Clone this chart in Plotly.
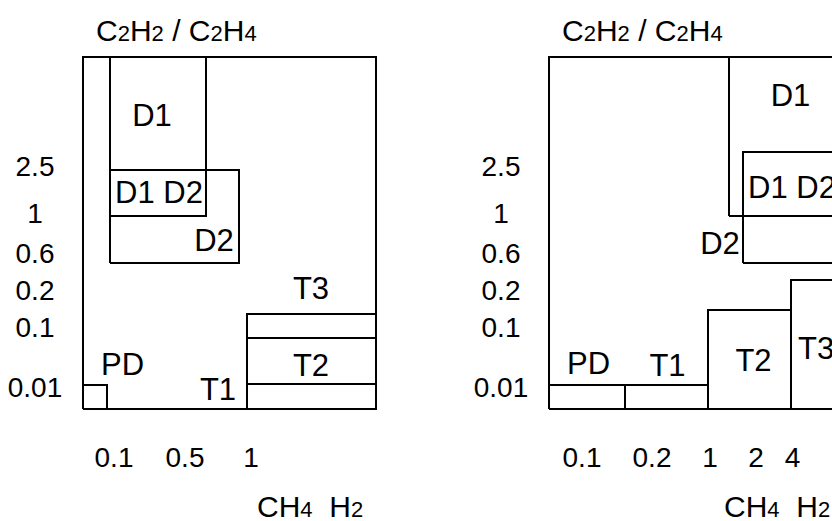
import plotly.graph_objects as go

# ---------------- data (diagram units: box-relative, x right / y up) ----------------
FONT = "Arial, Liberation Sans, sans-serif"

# y-axis ratio labels (C2H2/C2H4) and their positions on the diagram scale
y_tick_labels = ["2.5", "1", "0.6", "0.2", "0.1", "0.01"]
y_tick_pos = [240, 193, 153, 116.5, 79.5, 19.5]

# left panel x-axis labels (CH4/H2)
left_x_labels = ["0.1", "0.5", "1"]
left_x_pos = [31, 102, 168]

# right panel x-axis labels (CH4/H2)
right_x_labels = ["0.1", "0.2", "1", "2", "4"]
right_x_pos = [33, 103, 161, 207, 243.5]

# left panel zone rectangles: [x0, x1, y0, y1]
left_outer = [0, 293, 0, 352]
left_zones = {
    "D1": [27, 123, 193, 352],
    "D2": [27, 156, 146, 239],
    "PD": [0, 24, 0, 24],
    "T": [164, 293, 0, 95],
}
left_T_splits = [71, 25]  # horizontal dividers inside the thermal zone

# left panel zone labels
left_label_text = ["D1", "D1 D2", "D2", "T3", "T2", "T1", "PD"]
left_label_x = [69, 76, 131, 228, 228, 135, 39.5]
left_label_y = [290.5, 214, 165.5, 117.5, 41, 16.5, 41.5]

# right panel zone rectangles (right side runs past the picture edge)
right_outer = [0, 330, 0, 352]
right_zones = {
    "D1": [180, 330, 193, 352],
    "D2": [194, 330, 146, 257],
    "PD": [0, 76, 0, 24],
    "T1": [76, 159, 0, 24],
    "T2": [159, 242, 0, 99],
    "T3": [242, 330, 0, 129],
}

# right panel zone labels (centred) and left-anchored labels
right_label_text = ["D1", "D2", "PD", "T1", "T2"]
right_label_x = [241.5, 171, 39.5, 118.5, 204.5]
right_label_y = [310.5, 163, 43, 41, 46]
right_left_text = ["D1 D2", "T3"]
right_left_x = [199, 249]
right_left_y = [218.5, 58]

title_x, title_y = 93.5, 379
xlabel_y_pos = -51
ylabel_x_pos = -48
axis_name_x = [172, 173]
axis_name_y = -97

TICK_SIZE = 28
ZONE_SIZE = 31
TITLE_SIZE = 30
SUB = '<span style="font-size:22px">{}</span>'
title_text = "C" + SUB.format("2") + "H" + SUB.format("2") + " / C" + SUB.format("2") + "H" + SUB.format("4")
axis_name_text = "CH" + SUB.format("4") + "\u00a0\u00a0H" + SUB.format("2")


def rect_path(r):
    x0, x1, y0, y1 = r
    return [x0, x1, x1, x0, x0, None], [y0, y0, y1, y1, y0, None]


def hline(x0, x1, y):
    return [x0, x1, None], [y, y, None]


fig = go.Figure()

for panel, (xa, ya) in enumerate([("x", "y"), ("x2", "y2")]):
    xs, ys = [], []
    if panel == 0:
        rects = [left_outer] + list(left_zones.values())
    else:
        rects = [right_outer] + list(right_zones.values())
    for r in rects:
        a, b = rect_path(r)
        xs += a
        ys += b
    if panel == 0:
        t = left_zones["T"]
        for yy in left_T_splits:
            a, b = hline(t[0], t[1], yy)
            xs += a
            ys += b
    fig.add_trace(go.Scatter(x=xs, y=ys, mode="lines", xaxis=xa, yaxis=ya,
                             line=dict(color="black", width=2), hoverinfo="skip",
                             showlegend=False))

    # y tick labels
    fig.add_trace(go.Scatter(x=[ylabel_x_pos] * len(y_tick_labels), y=y_tick_pos,
                             text=y_tick_labels, mode="text", textposition="middle center",
                             textfont=dict(family=FONT, size=TICK_SIZE, color="black"),
                             xaxis=xa, yaxis=ya, cliponaxis=False, showlegend=False,
                             hoverinfo="skip"))
    # x tick labels
    xl = left_x_labels if panel == 0 else right_x_labels
    xp = left_x_pos if panel == 0 else right_x_pos
    fig.add_trace(go.Scatter(x=xp, y=[xlabel_y_pos] * len(xl), text=xl, mode="text",
                             textposition="middle center",
                             textfont=dict(family=FONT, size=TICK_SIZE, color="black"),
                             xaxis=xa, yaxis=ya, cliponaxis=False, showlegend=False,
                             hoverinfo="skip"))
    # zone labels
    if panel == 0:
        lt, lx, ly = left_label_text, left_label_x, left_label_y
    else:
        lt, lx, ly = right_label_text, right_label_x, right_label_y
    fig.add_trace(go.Scatter(x=lx, y=ly, text=lt, mode="text", textposition="middle center",
                             textfont=dict(family=FONT, size=ZONE_SIZE, color="black"),
                             xaxis=xa, yaxis=ya, cliponaxis=False, showlegend=False,
                             hoverinfo="skip"))
    if panel == 1:
        fig.add_trace(go.Scatter(x=right_left_x, y=right_left_y, text=right_left_text,
                                 mode="text", textposition="middle right",
                                 textfont=dict(family=FONT, size=ZONE_SIZE, color="black"),
                                 xaxis=xa, yaxis=ya, cliponaxis=False, showlegend=False,
                                 hoverinfo="skip"))
    # title and axis name
    fig.add_annotation(x=title_x, y=title_y, xref=xa, yref=ya, text=title_text,
                       showarrow=False, xanchor="center", yanchor="middle",
                       font=dict(family=FONT, size=TITLE_SIZE, color="black"))
    fig.add_annotation(x=axis_name_x[panel], y=axis_name_y, xref=xa, yref=ya,
                       text=axis_name_text, showarrow=False, xanchor="left",
                       yanchor="middle", font=dict(family=FONT, size=TITLE_SIZE, color="black"))

axis_common = dict(visible=False, showgrid=False, zeroline=False, fixedrange=True)
fig.update_layout(
    width=832, height=521,
    margin=dict(l=0, r=0, t=0, b=0, pad=0),
    paper_bgcolor="white", plot_bgcolor="white",
    xaxis=dict(domain=[0, 0.5], range=[-83, 333], anchor="y", **axis_common),
    yaxis=dict(domain=[0, 1], range=[-112, 409], anchor="x", **axis_common),
    xaxis2=dict(domain=[0.5, 1], range=[-133, 283], anchor="y2", **axis_common),
    yaxis2=dict(domain=[0, 1], range=[-112, 409], anchor="x2", **axis_common),
    showlegend=False,
)

fig.write_html("out.html", config={"displayModeBar": False},
               post_script="document.body.style.margin='0px';document.body.style.overflow='hidden';")
